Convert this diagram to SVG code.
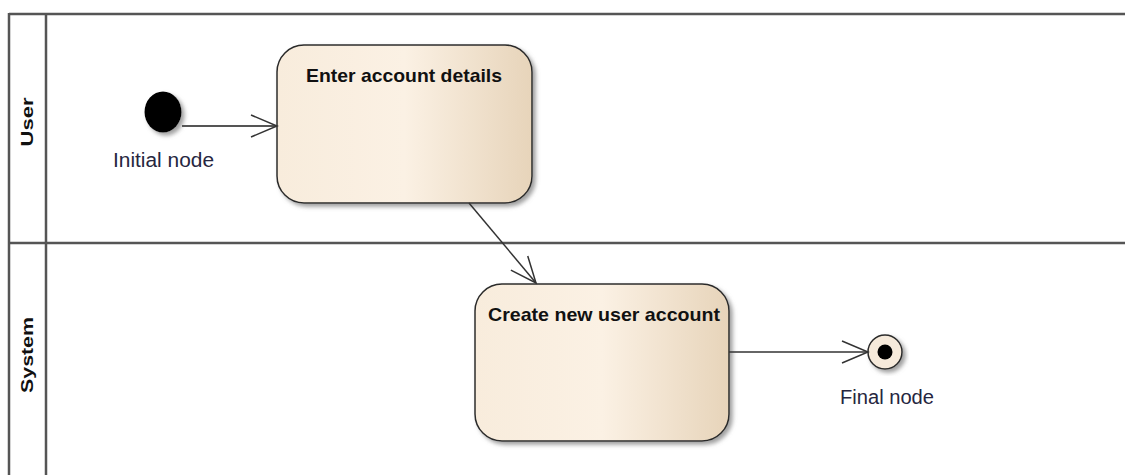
<svg xmlns="http://www.w3.org/2000/svg" width="1125" height="475" viewBox="0 0 1125 475">
<style>
.lane{stroke:#555;stroke-width:2.5;fill:none}
.act{stroke:#2b2b2b;stroke-width:1.5;fill:url(#g)}
.lbl{font-family:"Liberation Sans",Arial,sans-serif;font-weight:bold;fill:#111}
.cap{font-family:"Liberation Sans",Arial,sans-serif;fill:#262640}
.conn{stroke:#333;stroke-width:1.5;fill:none}
</style>
<defs>
<linearGradient id="g" x1="0" y1="0" x2="1" y2="0">
<stop offset="0" stop-color="#f8ecdc"/>
<stop offset="0.5" stop-color="#fbf1e4"/>
<stop offset="1" stop-color="#e7d4ba"/>
</linearGradient>
<filter id="sh" x="-10%" y="-10%" width="130%" height="130%">
<feDropShadow dx="3" dy="3" stdDeviation="2" flood-color="#888" flood-opacity="0.8"/>
</filter>
<marker id="open" markerUnits="userSpaceOnUse" markerWidth="30" markerHeight="26" refX="27" refY="12" orient="auto">
<path d="M1,1 L27,12 L1,23" fill="none" stroke="#333" stroke-width="1.5"/>
</marker>
</defs>
<rect width="1125" height="475" fill="#fff"/>
<g id="lanes">
<line class="lane" x1="9" y1="14" x2="1125" y2="14"/>
<line class="lane" x1="9" y1="243" x2="1125" y2="243"/>
<line class="lane" x1="9" y1="13" x2="9" y2="475"/>
<line class="lane" x1="46" y1="14" x2="46" y2="475"/>
<text class="lbl" font-size="16" text-anchor="middle" textLength="49" lengthAdjust="spacingAndGlyphs" transform="translate(33,122) rotate(-90)">User</text>
<text class="lbl" font-size="16" text-anchor="middle" textLength="76" lengthAdjust="spacingAndGlyphs" transform="translate(33,355) rotate(-90)">System</text>
</g>
<g id="initial">
<ellipse cx="163" cy="112" rx="18.5" ry="20.5" fill="#000" filter="url(#sh)"/>
<text class="cap" x="113" y="167" font-size="20" textLength="101" lengthAdjust="spacingAndGlyphs">Initial node</text>
</g>
<g id="enter">
<rect class="act" x="277" y="45" width="255" height="158" rx="27" ry="27" filter="url(#sh)"/>
<text class="lbl" x="306" y="82" font-size="19" textLength="196" lengthAdjust="spacingAndGlyphs">Enter account details</text>
</g>
<g id="create">
<rect class="act" x="475" y="284" width="254" height="157" rx="27" ry="27" filter="url(#sh)"/>
<text class="lbl" x="488" y="321" font-size="19" textLength="232" lengthAdjust="spacingAndGlyphs">Create new user account</text>
</g>
<g id="final">
<circle cx="885" cy="352" r="17" fill="#f6eadb" stroke="#2b2b2b" stroke-width="1.5" filter="url(#sh)"/>
<circle cx="885" cy="352" r="7.5" fill="#000"/>
<text class="cap" x="840" y="404" font-size="20" textLength="94" lengthAdjust="spacingAndGlyphs">Final node</text>
</g>
<g id="connectors">
<line class="conn" x1="182" y1="126" x2="277" y2="126" marker-end="url(#open)" style="stroke:#555;stroke-width:2"/>
<line class="conn" x1="469" y1="203" x2="536" y2="283" marker-end="url(#open)"/>
<line class="conn" x1="729" y1="352" x2="868" y2="352" marker-end="url(#open)"/>
</g>
</svg>
